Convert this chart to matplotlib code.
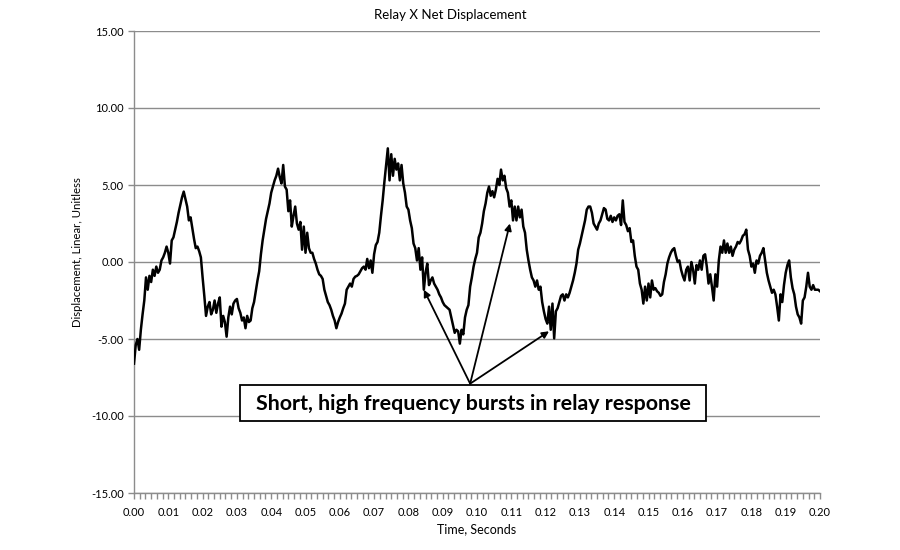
import numpy as np
import matplotlib
matplotlib.use('Agg')
import matplotlib.pyplot as plt
from matplotlib.patches import Rectangle
from matplotlib.ticker import MultipleLocator, FormatStrFormatter

# relay displacement, every 0.5 ms from 0.000 to 0.200 s
disp = [
    -6.6, -5.4, -5.0, -5.7, -4.4, -3.4, -2.5, -1.0, -1.8, -0.9,
    -1.3, -0.5, -0.9, -0.3, -0.7, -0.5, 0.1, 0.3, 0.6, 1.0,
    0.6, -0.1, 1.4, 1.6, 2.1, 2.6, 3.2, 3.7, 4.2, 4.57,
    4.1, 3.6, 2.7, 2.9, 2.2, 1.5, 0.9, 1.0, 0.7, 0.3,
    -1.0, -2.2, -3.5, -2.9, -2.6, -3.4, -3.1, -2.5, -3.3, -2.7,
    -2.3, -4.2, -3.5, -3.9, -4.85, -3.6, -2.9, -3.4, -2.7, -2.5,
    -2.4, -3.0, -3.3, -3.8, -3.6, -4.3, -3.5, -3.9, -3.8, -3.0,
    -2.6, -1.9, -1.2, -0.6, 0.5, 1.4, 2.1, 2.8, 3.3, 3.8,
    4.5, 4.9, 5.3, 5.6, 6.06, 5.5, 5.1, 6.3, 4.9, 4.7,
    3.3, 4.0, 2.3, 3.0, 3.6, 2.5, 2.1, 2.6, 0.8, 2.3,
    0.6, 1.9, 0.9, 0.6, 0.6, 0.2, -0.1, -0.5, -0.8, -0.9,
    -1.1, -1.8, -2.2, -2.6, -2.8, -3.1, -3.5, -3.8, -4.3, -3.9,
    -3.6, -3.35, -3.0, -2.7, -1.8, -1.6, -1.4, -1.6, -1.1, -0.95,
    -0.9, -0.8, -0.6, -0.4, -0.3, -0.5, 0.2, -0.4, 0.1, -0.7,
    0.5, 1.1, 1.3, 1.9, 3.0, 4.0, 5.2, 6.3, 7.38, 5.3,
    7.0, 5.6, 6.7, 6.0, 6.4, 5.3, 6.3, 5.1, 4.5, 3.6,
    3.4, 2.7, 2.2, 1.2, 0.9, 0.1, 0.9, -0.5, 0.3, -1.8,
    -0.7, -0.1, -1.5, -1.2, -1.0, -1.4, -1.6, -1.8, -2.1, -2.3,
    -2.6, -2.8, -2.9, -3.0, -3.1, -3.6, -4.1, -4.6, -4.4, -4.5,
    -5.3, -4.4, -4.7, -3.6, -3.1, -2.8, -1.6, -1.0, -0.3, 0.2,
    0.6, 1.6, 1.9, 2.5, 3.3, 3.8, 4.5, 4.9, 4.3, 4.6,
    4.2, 4.7, 5.4, 5.0, 6.0, 5.3, 5.6, 4.8, 4.5, 3.6,
    4.0, 2.7, 3.6, 2.7, 3.6, 2.9, 3.4, 2.3, 1.9, 0.8,
    0.1, -0.5, -1.0, -1.2, -1.6, -1.2, -1.8, -1.6, -2.6, -3.2,
    -3.7, -4.0, -2.9, -4.4, -2.7, -4.96, -3.2, -3.0, -2.6, -2.2,
    -2.1, -2.5, -2.1, -2.3, -2.0, -1.6, -1.2, -0.7, -0.1, 0.8,
    1.2, 1.7, 2.2, 2.7, 3.4, 3.6, 3.6, 3.2, 2.5, 2.3,
    2.1, 2.5, 2.7, 3.1, 3.5, 3.4, 2.8, 2.7, 3.0, 2.6,
    2.9, 2.7, 3.0, 3.1, 2.4, 4.0, 2.6, 2.4, 2.0, 2.2,
    1.3, 1.4, 0.4, -0.3, -0.5, -1.4, -1.8, -2.7, -1.6, -2.5,
    -1.4, -2.3, -1.2, -1.8, -1.7, -1.9, -2.0, -2.2, -2.1, -1.3,
    -0.8, -0.1, 0.3, 0.6, 0.8, 0.9, 0.4, 0.0, 0.1, -0.5,
    -0.9, -1.2, -0.5, -0.3, -1.2, 0.0, -0.5, -1.4, -0.2, -0.5,
    0.1, -0.5, 0.4, 0.5, -0.3, -1.4, -0.8, -1.6, -2.5, -0.8,
    -1.6, 0.1, 1.0, 0.6, 1.4, 0.6, 1.2, 0.6, 1.0, 0.4,
    0.8, 1.0, 1.3, 1.2, 1.4, 1.7, 1.8, 2.1, 0.8, 0.4,
    -0.3, -0.1, -0.7, 0.1, -0.1, 0.4, 0.6, 0.9, 0.1, -0.7,
    -1.2, -1.6, -2.0, -1.8, -2.1, -2.9, -3.8, -2.1, -2.6, -1.5,
    -0.7, -0.2, 0.1, -1.0, -1.7, -2.1, -2.9, -3.4, -3.6, -4.0,
    -2.5, -2.3, -1.6, -0.7, -1.6, -1.8, -1.5, -1.8, -1.8, -1.8,
    -1.9,
]
t_start, t_end = 0.0, 0.20
time = np.linspace(t_start, t_end, len(disp))

x_ticks = np.arange(0.0, 0.2001, 0.01)
y_ticks = [-15, -10, -5, 0, 5, 10, 15]

note_text = 'Short, high frequency bursts in relay response'
note_from = (0.098, -7.9)
note_to = [(0.0845, -1.8), (0.1096, 2.5), (0.121, -4.5)]

plt.rcParams['font.family'] = ['Lato', 'DejaVu Sans']
grid_col = '#8c8c8c'
W, H = 900, 550

fig = plt.figure(figsize=(9, 5.5), dpi=100)
ax = fig.add_axes([134/W, 1-493/H, (820-134)/W, (493-31)/H])

ax.plot(time, disp, color='k', lw=1.8, zorder=3)

ax.set_xlim(t_start, t_end)
ax.set_ylim(-15, 15)
ax.set_xticks(x_ticks)
ax.xaxis.set_major_formatter(FormatStrFormatter('%.2f'))
ax.xaxis.set_minor_locator(MultipleLocator(0.01/6))
ax.set_yticks(y_ticks)
ax.yaxis.set_major_formatter(FormatStrFormatter('%.2f'))

ax.grid(axis='y', color=grid_col, lw=1)
ax.set_axisbelow(True)
for s in ['top', 'right']:
    ax.spines[s].set_visible(False)
for s in ['left', 'bottom']:
    ax.spines[s].set_color(grid_col)
    ax.spines[s].set_linewidth(1)

ax.tick_params(axis='both', which='both', color=grid_col, length=4, width=1,
               labelsize=8, labelcolor='k')
ax.tick_params(axis='x', pad=6)

fig.text(0.5, 1-15/H, 'Relay X Net Displacement', ha='center', va='center',
         fontsize=9.5)
ax.set_xlabel('Time, Seconds', fontsize=9, labelpad=4)
ax.set_ylabel('Displacement, Linear, Unitless', fontsize=8.2)
ax.yaxis.set_label_coords(-0.074, 0.522)

arrowprops = dict(arrowstyle='-|>', color='k', lw=1.3, mutation_scale=10,
                  shrinkA=0, shrinkB=0)
for tip in note_to:
    ax.annotate('', xy=tip, xytext=note_from, arrowprops=arrowprops, zorder=5)

# note box, placed in figure pixels like the text box in the original sheet
fig.patches.append(Rectangle((240/W, 1-421/H), 466/W, 36/H, transform=fig.transFigure,
                             fc='white', ec='k', lw=1.3, zorder=6))
fig.text(473/W, 1-404/H, note_text, ha='center', va='center', fontsize=15.4,
         fontweight='bold', zorder=7)

fig.savefig('out.png', dpi=100)
